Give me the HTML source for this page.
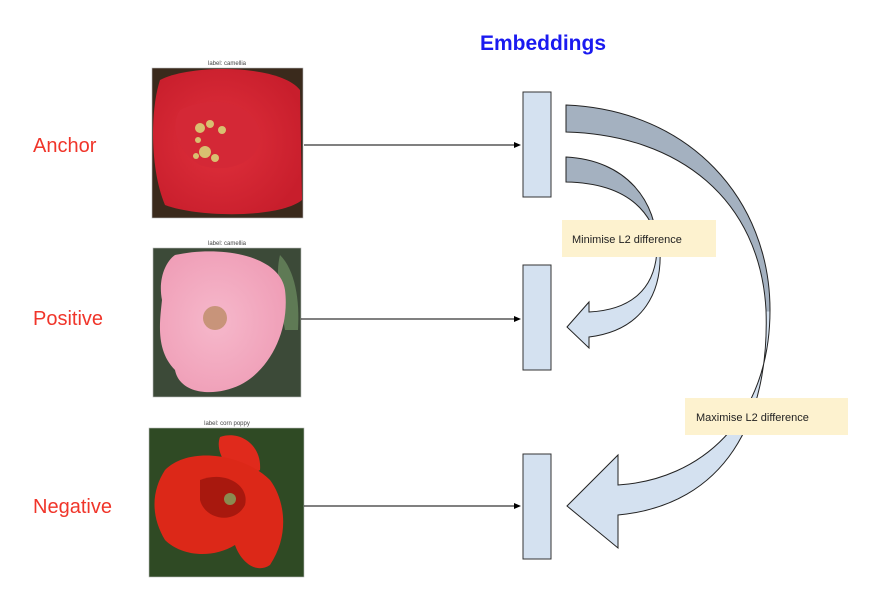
<!DOCTYPE html>
<html><head><meta charset="utf-8"><style>
html,body{margin:0;padding:0;background:#fff;width:886px;height:610px;overflow:hidden}
svg{display:block}
text{font-family:"Liberation Sans",sans-serif}
</style></head><body>
<svg width="886" height="610" viewBox="0 0 886 610">
<defs>
<linearGradient id="bigG" gradientUnits="userSpaceOnUse" x1="0" y1="100" x2="0" y2="550">
<stop offset="0" stop-color="#a4b1c0"/><stop offset="0.47" stop-color="#a4b1c0"/><stop offset="0.47" stop-color="#d4e1f0"/><stop offset="1" stop-color="#d4e1f0"/></linearGradient>
<linearGradient id="smG" gradientUnits="userSpaceOnUse" x1="0" y1="155" x2="0" y2="350">
<stop offset="0" stop-color="#a4b1c0"/><stop offset="0.38" stop-color="#a4b1c0"/><stop offset="0.38" stop-color="#d4e1f0"/><stop offset="1" stop-color="#d4e1f0"/></linearGradient>
<radialGradient id="redF" cx="0.45" cy="0.5" r="0.6"><stop offset="0" stop-color="#e0303c"/><stop offset="1" stop-color="#c81e2c"/></radialGradient>
<radialGradient id="pinkF" cx="0.45" cy="0.5" r="0.6"><stop offset="0" stop-color="#f6b8cb"/><stop offset="1" stop-color="#ef9db6"/></radialGradient>
</defs>

<text x="543" y="50" text-anchor="middle" font-size="21" font-weight="bold" fill="#1a1af0">Embeddings</text>

<text x="33" y="152" font-size="20" fill="#f0352a">Anchor</text>
<text x="33" y="325" font-size="20" fill="#f0352a">Positive</text>
<text x="33" y="513" font-size="20" fill="#f0352a">Negative</text>

<g>
<text x="227" y="65" text-anchor="middle" font-size="6" fill="#444">label: camellia</text>
<rect x="152" y="68" width="151" height="150" fill="#3a2a1c" stroke="#bbb" stroke-width="0.6"/>
<path d="M160,80 C190,64 280,64 300,90 L302,200 C280,218 200,218 165,205 C150,170 150,110 160,80Z" fill="url(#redF)"/>
<path d="M180,110 C210,95 250,100 260,130 C265,160 230,175 200,165 C175,150 170,125 180,110Z" fill="#d42836"/>
<g fill="#d8c070"><circle cx="200" cy="128" r="5"/><circle cx="210" cy="124" r="4"/><circle cx="222" cy="130" r="4"/><circle cx="198" cy="140" r="3"/><circle cx="205" cy="152" r="6"/><circle cx="215" cy="158" r="4"/><circle cx="196" cy="156" r="3"/></g>
</g>

<g>
<text x="227" y="245" text-anchor="middle" font-size="6" fill="#444">label: camellia</text>
<rect x="153" y="248" width="148" height="149" fill="#3c4a38" stroke="#bbb" stroke-width="0.6"/>
<path d="M280,255 C295,270 300,300 298,330 L285,330 C280,300 275,275 280,255Z" fill="#5f7a55"/>
<path d="M175,255 C220,245 280,255 285,290 C290,330 270,370 240,385 C215,397 180,395 175,370 C155,350 160,320 162,300 C158,280 165,262 175,255Z" fill="url(#pinkF)"/>
<circle cx="215" cy="318" r="12" fill="#c8947a"/>
</g>

<g>
<text x="227" y="425" text-anchor="middle" font-size="6" fill="#444">label: corn poppy</text>
<rect x="149" y="428" width="155" height="149" fill="#2f4a24" stroke="#bbb" stroke-width="0.6"/>
<path d="M220,437 C240,430 262,445 260,470 L245,478 C225,470 215,450 220,437Z" fill="#e02a1c"/>
<path d="M165,470 C190,445 245,455 270,480 C285,500 290,535 270,565 C255,575 240,560 235,545 C210,560 180,555 165,540 C150,515 152,490 165,470Z" fill="#dc2818"/>
<path d="M200,480 C225,470 250,485 245,505 C235,525 205,520 200,500Z" fill="#a8180e"/>
<circle cx="230" cy="499" r="6" fill="#8a8a50"/>
</g>

<g stroke="#000" stroke-width="1" fill="#000">
<line x1="304" y1="145" x2="515" y2="145"/><path d="M521,145 L514,142 L514,148Z" stroke="none"/>
<line x1="301" y1="319" x2="515" y2="319"/><path d="M521,319 L514,316 L514,322Z" stroke="none"/>
<line x1="304" y1="506" x2="515" y2="506"/><path d="M521,506 L514,503 L514,509Z" stroke="none"/>
</g>

<rect x="523" y="92" width="28" height="105" fill="#d4e1f0" stroke="#333" stroke-width="1"/>
<rect x="523" y="265" width="28" height="105" fill="#d4e1f0" stroke="#333" stroke-width="1"/>
<rect x="523" y="454" width="28" height="105" fill="#d4e1f0" stroke="#333" stroke-width="1"/>

<path d="M566,105 C690,110 770,200 770,310 C770,420 700,480 618,485 L618,455 L567,506 L618,548 L618,515 C725,505 770,420 766,310 C760,200 680,135 566,132 Z" fill="url(#bigG)" stroke="#222" stroke-width="1"/>
<path d="M566,157 C625,160 658,200 657,250 C655,290 630,310 589,312 L589,302 L567,327 L589,348 L589,337 C645,330 662,290 660,250 C652,205 620,183 566,182 Z" fill="url(#smG)" stroke="#222" stroke-width="1"/>

<g>
<rect x="562" y="220" width="154" height="37" fill="#fdf2cf"/>
<text x="572" y="243" font-size="11" fill="#222">Minimise L2 difference</text>
</g>
<g>
<rect x="685" y="398" width="163" height="37" fill="#fdf2cf"/>
<text x="696" y="421" font-size="11" fill="#222">Maximise L2 difference</text>
</g>
</svg>
</body></html>
